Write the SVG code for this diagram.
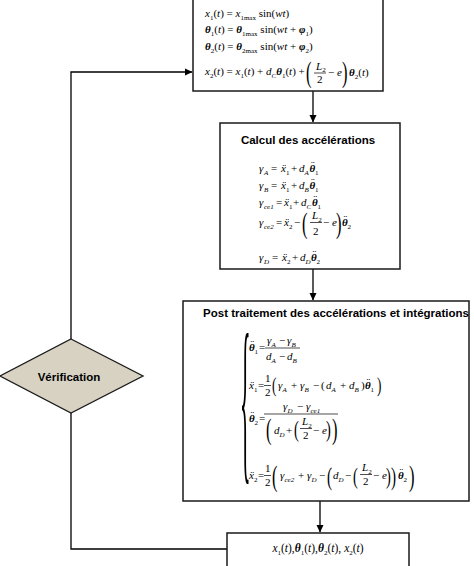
<svg xmlns="http://www.w3.org/2000/svg" width="474" height="566" viewBox="0 0 474 566">
<style>
.box{fill:#fff;stroke:#1a1a1a;stroke-width:1.5}
.ln{fill:none;stroke:#000;stroke-width:1.3}
.t{font-family:"Liberation Sans",Arial,sans-serif;font-weight:bold;font-size:11.5px;fill:#000}
.m{font-family:"Liberation Serif","Times New Roman",serif;font-size:11px;fill:#000}
.i{font-style:italic}
.b{font-style:italic;font-weight:bold}
.s{font-size:7px}
.fb{stroke:#000;stroke-width:0.7}
.p22{font-size:22px}
.p24{font-size:24px}
.p26{font-size:26px}
.p30{font-size:30px}
.br{font-size:182px}
.r4{font-size:11.5px}
</style>
<defs>
<marker id="ah" markerWidth="8" markerHeight="8" refX="7" refY="4" orient="auto" markerUnits="userSpaceOnUse">
<path d="M0,0.5 L7.5,4 L0,7.5 Z" fill="#000"/>
</marker>
</defs>

<g id="connectors">
<line class="ln" x1="313" y1="91" x2="313" y2="122" marker-end="url(#ah)"/>
<line class="ln" x1="313" y1="269" x2="313" y2="300" marker-end="url(#ah)"/>
<line class="ln" x1="320" y1="501" x2="320" y2="532" marker-end="url(#ah)"/>
<polyline class="ln" points="227,549 71,549 71,413"/>
<polyline class="ln" points="71,339 71,72 192,72" marker-end="url(#ah)"/>
</g>

<g id="box-init">
<rect class="box" x="193" y="-2" width="190" height="93"/>
<text class="m" x="205" y="17"><tspan class="i">x</tspan><tspan class="s" dy="2.5">1</tspan><tspan dy="-2.5">(</tspan><tspan class="i">t</tspan>) = <tspan class="i">x</tspan><tspan class="s" dy="2.5">1max</tspan><tspan dy="-2.5"> sin(</tspan><tspan class="i">wt</tspan>)</text>
<text class="m" x="205" y="33"><tspan class="b">θ</tspan><tspan class="s" dy="2.5">1</tspan><tspan dy="-2.5">(</tspan><tspan class="i">t</tspan>) = <tspan class="b">θ</tspan><tspan class="s" dy="2.5">1max</tspan><tspan dy="-2.5"> sin(</tspan><tspan class="i">wt</tspan> + <tspan class="b">φ</tspan><tspan class="s" dy="2.5">1</tspan><tspan dy="-2.5">)</tspan></text>
<text class="m" x="205" y="50"><tspan class="b">θ</tspan><tspan class="s" dy="2.5">2</tspan><tspan dy="-2.5">(</tspan><tspan class="i">t</tspan>) = <tspan class="b">θ</tspan><tspan class="s" dy="2.5">2max</tspan><tspan dy="-2.5"> sin(</tspan><tspan class="i">wt</tspan> + <tspan class="b">φ</tspan><tspan class="s" dy="2.5">2</tspan><tspan dy="-2.5">)</tspan></text>
<text class="m" x="205" y="75"><tspan class="i">x</tspan><tspan class="s" dy="2.5">2</tspan><tspan dy="-2.5">(</tspan><tspan class="i">t</tspan>) = <tspan class="i">x</tspan><tspan class="s" dy="2.5">1</tspan><tspan dy="-2.5">(</tspan><tspan class="i">t</tspan>) + <tspan class="i">d</tspan><tspan class="s i" dy="2.5">C</tspan><tspan class="b" dy="-2.5">θ</tspan><tspan class="s" dy="2.5">1</tspan><tspan dy="-2.5">(</tspan><tspan class="i">t</tspan>) +</text>
<text class="m p30" transform="translate(306,82) scale(0.55,1)">(</text>
<text class="m i" x="316" y="69.5">L<tspan class="s" font-style="normal" dy="2.5">2</tspan></text>
<line class="fb" x1="314" y1="73" x2="326" y2="73"/>
<text class="m" x="317" y="83">2</text>
<text class="m" x="328" y="76">− <tspan class="i">e</tspan></text>
<text class="m p30" transform="translate(342,82) scale(0.55,1)">)</text>
<text class="m" x="349" y="76"><tspan class="b">θ</tspan><tspan class="s" dy="2.5">2</tspan><tspan dy="-2.5">(</tspan><tspan class="i">t</tspan>)</text>
</g>

<g id="box-accel">
<rect class="box" x="220" y="123" width="180" height="146"/>
<text class="t" x="308" y="144" text-anchor="middle">Calcul des accélérations</text>
<text class="m">
<tspan class="i" x="259" y="172">γ</tspan><tspan class="s i" x="264" y="174.5">A</tspan>
<tspan x="271" y="172">=</tspan><tspan class="i" x="281" y="172">ẍ</tspan><tspan class="s" x="286" y="174.5">1</tspan>
<tspan x="291" y="172">+</tspan><tspan class="i" x="299" y="172">d</tspan><tspan class="s i" x="304.5" y="174.5">A</tspan>
<tspan class="b" x="309.5" y="172">θ</tspan><tspan x="311" y="169">¨</tspan><tspan class="s" x="315" y="174.5">1</tspan>
</text>
<text class="m">
<tspan class="i" x="259" y="189">γ</tspan><tspan class="s i" x="264" y="191.5">B</tspan>
<tspan x="271" y="189">=</tspan><tspan class="i" x="281" y="189">ẍ</tspan><tspan class="s" x="286" y="191.5">1</tspan>
<tspan x="291" y="189">+</tspan><tspan class="i" x="299" y="189">d</tspan><tspan class="s i" x="304.5" y="191.5">B</tspan>
<tspan class="b" x="309.5" y="189">θ</tspan><tspan x="311" y="186">¨</tspan><tspan class="s" x="315" y="191.5">1</tspan>
</text>
<text class="m">
<tspan class="i" x="259" y="206">γ</tspan><tspan class="s i" x="264" y="208.5">ce1</tspan>
<tspan x="276" y="206">=</tspan><tspan class="i" x="284" y="206">ẍ</tspan><tspan class="s" x="289" y="208.5">1</tspan>
<tspan x="293" y="206">+</tspan><tspan class="i" x="301" y="206">d</tspan><tspan class="s i" x="306.5" y="208.5">C</tspan>
<tspan class="b" x="312" y="206">θ</tspan><tspan x="313.5" y="203">¨</tspan><tspan class="s" x="317.5" y="208.5">1</tspan>
</text>
<text class="m">
<tspan class="i" x="259" y="226">γ</tspan><tspan class="s i" x="264" y="228.5">ce2</tspan>
<tspan x="276" y="226">=</tspan><tspan class="i" x="284" y="226">ẍ</tspan><tspan class="s" x="289" y="228.5">2</tspan>
<tspan x="294" y="226">−</tspan>
</text>
<text class="m p30" transform="translate(302,233) scale(0.55,1)">(</text>
<text class="m i" x="312" y="219">L<tspan class="s" font-style="normal" dy="2.5">2</tspan></text>
<line class="fb" x1="310" y1="222.5" x2="322" y2="222.5"/>
<text class="m" x="313" y="235">2</text>
<text class="m" x="323" y="226">− <tspan class="i">e</tspan></text>
<text class="m p30" transform="translate(336,233) scale(0.55,1)">)</text>
<text class="m"><tspan class="b" x="342" y="226">θ</tspan><tspan x="343.5" y="223">¨</tspan><tspan class="s" x="347.5" y="228.5">2</tspan></text>
<text class="m">
<tspan class="i" x="259" y="261">γ</tspan><tspan class="s i" x="264" y="263.5">D</tspan>
<tspan x="272" y="261">=</tspan><tspan class="i" x="282" y="261">ẍ</tspan><tspan class="s" x="287" y="263.5">2</tspan>
<tspan x="292" y="261">+</tspan><tspan class="i" x="300" y="261">d</tspan><tspan class="s i" x="305.5" y="263.5">D</tspan>
<tspan class="b" x="311" y="261">θ</tspan><tspan x="312.5" y="258">¨</tspan><tspan class="s" x="316.5" y="263.5">2</tspan>
</text>
</g>

<g id="box-post">
<rect class="box" x="183" y="301" width="286" height="200"/>
<text class="t" x="336" y="317" text-anchor="middle">Post traitement des accélérations et intégrations</text>
<text class="m br" x="2000" y="460" transform="scale(0.12,1)">{</text>
<!-- row 1 -->
<text class="m"><tspan class="b" x="249" y="351">θ</tspan><tspan x="250.5" y="348">¨</tspan><tspan class="s" x="254.5" y="353.5">1</tspan><tspan x="259" y="351">=</tspan></text>
<text class="m"><tspan class="i" x="267" y="344">γ</tspan><tspan class="s i" x="271.5" y="346.5">A</tspan><tspan x="279" y="344">−</tspan><tspan class="i" x="287" y="344">γ</tspan><tspan class="s i" x="291.5" y="346.5">B</tspan></text>
<line class="fb" x1="265" y1="348" x2="300" y2="348"/>
<text class="m"><tspan class="i" x="266" y="360">d</tspan><tspan class="s i" x="271.5" y="362.5">A</tspan><tspan x="279" y="360">−</tspan><tspan class="i" x="287" y="360">d</tspan><tspan class="s i" x="292.5" y="362.5">B</tspan></text>
<!-- row 2 -->
<text class="m"><tspan class="i" x="249" y="389">ẍ</tspan><tspan class="s" x="254" y="391.5">1</tspan><tspan x="258" y="389">=</tspan><tspan x="265" y="382">1</tspan><tspan x="265" y="396">2</tspan></text>
<line class="fb" x1="264" y1="385.5" x2="271" y2="385.5"/>
<text class="m p22" transform="translate(272,392) scale(0.6,1)">(</text>
<text class="m">
<tspan class="i" x="278" y="389">γ</tspan><tspan class="s i" x="282.5" y="391.5">A</tspan>
<tspan x="291" y="389">+</tspan>
<tspan class="i" x="300" y="389">γ</tspan><tspan class="s i" x="304.5" y="391.5">B</tspan>
<tspan x="313" y="389">−</tspan>
<tspan x="321" y="389">(</tspan>
<tspan class="i" x="326" y="389">d</tspan><tspan class="s i" x="331.5" y="391.5">A</tspan>
<tspan x="340" y="389">+</tspan>
<tspan class="i" x="349" y="389">d</tspan><tspan class="s i" x="354.5" y="391.5">B</tspan>
<tspan x="361" y="389">)</tspan>
<tspan class="b" x="365" y="389">θ</tspan><tspan x="366.5" y="386">¨</tspan><tspan class="s" x="370.5" y="391.5">1</tspan>
</text>
<text class="m p22" transform="translate(377,392) scale(0.6,1)">)</text>
<!-- row 3 -->
<text class="m"><tspan class="b" x="249" y="422">θ</tspan><tspan x="250.5" y="419">¨</tspan><tspan class="s" x="254.5" y="424.5">2</tspan><tspan x="259" y="422">=</tspan></text>
<text class="m"><tspan class="i" x="283" y="410">γ</tspan><tspan class="s i" x="287.5" y="412.5">D</tspan><tspan x="297" y="410">−</tspan><tspan class="i" x="306" y="410">γ</tspan><tspan class="s i" x="310.5" y="412.5">ce1</tspan></text>
<line class="fb" x1="264" y1="414" x2="338" y2="414"/>
<text class="m p30" transform="translate(266,439) scale(0.55,1)">(</text>
<text class="m"><tspan class="i" x="274" y="434">d</tspan><tspan class="s i" x="279.5" y="436.5">D</tspan><tspan x="286" y="434">+</tspan></text>
<text class="m p24" transform="translate(294,437) scale(0.6,1)">(</text>
<text class="m i" x="302" y="425">L<tspan class="s" font-style="normal" dy="2.5">2</tspan></text>
<line class="fb" x1="300" y1="428.5" x2="312" y2="428.5"/>
<text class="m" x="303" y="439">2</text>
<text class="m" x="313" y="434">− <tspan class="i">e</tspan></text>
<text class="m p24" transform="translate(326,437) scale(0.6,1)">)</text>
<text class="m p30" transform="translate(332,439) scale(0.55,1)">)</text>
<!-- row 4 -->
<text class="m"><tspan class="i" x="249" y="479">ẍ</tspan><tspan class="s" x="254" y="481.5">2</tspan><tspan x="258" y="479">=</tspan><tspan x="265" y="472">1</tspan><tspan x="265" y="486">2</tspan></text>
<line class="fb" x1="264" y1="475.5" x2="271" y2="475.5"/>
<text class="m p30" transform="translate(272,486) scale(0.55,1)">(</text>
<text class="m">
<tspan class="i" x="280" y="479">γ</tspan><tspan class="s i" x="284.5" y="481.5">ce2</tspan>
<tspan x="298" y="479">+</tspan>
<tspan class="i" x="307" y="479">γ</tspan><tspan class="s i" x="311.5" y="481.5">D</tspan>
<tspan x="319" y="479">−</tspan>
</text>
<text class="m p26" transform="translate(327,485) scale(0.58,1)">(</text>
<text class="m"><tspan class="i" x="333" y="479">d</tspan><tspan class="s i" x="338.5" y="481.5">D</tspan><tspan x="345" y="479">−</tspan></text>
<text class="m p24" transform="translate(353,484) scale(0.6,1)">(</text>
<text class="m i" x="362" y="471">L<tspan class="s" font-style="normal" dy="2.5">2</tspan></text>
<line class="fb" x1="360" y1="474.5" x2="372" y2="474.5"/>
<text class="m" x="363" y="485">2</text>
<text class="m" x="373" y="479">− <tspan class="i">e</tspan></text>
<text class="m p24" transform="translate(386,484) scale(0.6,1)">)</text>
<text class="m p26" transform="translate(391,485) scale(0.58,1)">)</text>
<text class="m"><tspan class="b" x="398" y="479">θ</tspan><tspan x="399.5" y="476">¨</tspan><tspan class="s" x="403.5" y="481.5">2</tspan></text>
<text class="m p30" transform="translate(409,486) scale(0.55,1)">)</text>
</g>

<g id="box-result">
<rect class="box" x="227" y="533" width="182" height="40"/>
<text class="m r4" x="318" y="552" text-anchor="middle"><tspan class="i">x</tspan><tspan class="s" dy="2.5">1</tspan><tspan dy="-2.5">(</tspan><tspan class="i">t</tspan>),<tspan class="b">θ</tspan><tspan class="s" dy="2.5">1</tspan><tspan dy="-2.5">(</tspan><tspan class="i">t</tspan>),<tspan class="b">θ</tspan><tspan class="s" dy="2.5">2</tspan><tspan dy="-2.5">(</tspan><tspan class="i">t</tspan>), <tspan class="i">x</tspan><tspan class="s" dy="2.5">2</tspan><tspan dy="-2.5">(</tspan><tspan class="i">t</tspan>)</text>
</g>

<g id="verification">
<polygon points="71,339 143,376 71,413 0,376" fill="#d8d2c2" stroke="#1a1a1a" stroke-width="1.3"/>
<text class="t" x="69" y="381" text-anchor="middle">Vérification</text>
</g>
</svg>
